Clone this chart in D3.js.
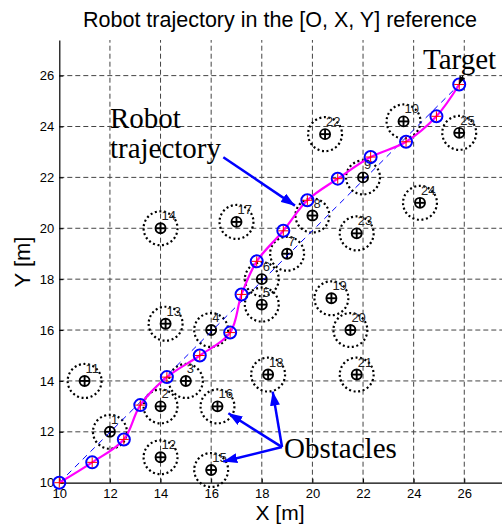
<!DOCTYPE html>
<html><head><meta charset="utf-8">
<script src="https://cdn.jsdelivr.net/npm/d3@7"></script>
<style>body{margin:0;background:#fff}svg{display:block}</style>
</head><body>
<script>
// ---- data ----
const obsLabel = [1,2,3,4,5,6,7,8,9,10,11,12,13,14,15,16,17,18,19,20,21,22,23,24,25];
const obsX = [12,14,15,16,18,18,19,20,22,23.6,11,14,14.2,14,16,16.25,17,18.25,20.75,21.5,21.75,20.5,21.75,24.25,25.8];
const obsY = [12,13,14,16,17,18,19,20.5,22,24.2,14,11,16.25,20,10.5,13,20.25,14.25,17.25,16,14.25,23.7,19.8,21,23.75];
const obsRadius = 0.67;
const wpX = [10,11.3,12.55,13.2,14.25,15.55,16.75,17.2,17.8,18.85,19.8,21,22.3,23.7,24.9,25.8];
const wpY = [10,10.8,11.7,13.05,14.15,15,15.9,17.4,18.7,19.9,21.1,21.95,22.8,23.4,24.4,25.65];
const xTicks = [10,12,14,16,18,20,22,24,26];
const yTicks = [10,12,14,16,18,20,22,24,26];

const W = 502, H = 529;
const svg = d3.select("body").append("svg").attr("width", W).attr("height", H);
const x = d3.scaleLinear().domain([10, 28]).range([59.3, 514.9]);
const y = d3.scaleLinear().domain([10, 27.4]).range([482.7, 40]);

const defs = svg.append("defs");
defs.append("marker").attr("id","ah").attr("viewBox","0 0 14 10").attr("refX",14).attr("refY",5)
  .attr("markerWidth",14).attr("markerHeight",10).attr("markerUnits","userSpaceOnUse").attr("orient","auto")
  .append("path").attr("d","M0,0L14,5L0,10Z").attr("fill","#0000ff");
defs.append("marker").attr("id","ahk").attr("viewBox","0 0 8 6").attr("refX",8).attr("refY",3)
  .attr("markerWidth",8).attr("markerHeight",6).attr("markerUnits","userSpaceOnUse").attr("orient","auto")
  .append("path").attr("d","M0,0L8,3L0,6Z").attr("fill","#000");

// grid
const g = svg.append("g");
g.selectAll(".gv").data(xTicks.slice(1)).join("line")
  .attr("x1", d=>x(d)).attr("x2", d=>x(d)).attr("y1", y(10)).attr("y2", y(27.4))
  .attr("stroke","#444").attr("stroke-width",1).attr("stroke-dasharray","5,3");
g.selectAll(".gh").data(yTicks.slice(1)).join("line")
  .attr("y1", d=>y(d)).attr("y2", d=>y(d)).attr("x1", x(10)).attr("x2", W)
  .attr("stroke","#444").attr("stroke-width",1).attr("stroke-dasharray","5,3");

// axes
const ax = svg.append("g").attr("transform",`translate(0,${y(10)})`)
  .call(d3.axisBottom(x).tickValues(xTicks).tickSize(-4).tickSizeOuter(0).tickPadding(6));
const ay = svg.append("g").attr("transform",`translate(${x(10)},0)`)
  .call(d3.axisLeft(y).tickValues(yTicks).tickSize(-4).tickSizeOuter(0).tickPadding(5));
[ax, ay].forEach(a => {
  a.selectAll("text").attr("font-family","Arial, 'Liberation Sans', sans-serif").attr("font-size",13).attr("fill","#000");
  a.select(".domain").attr("stroke","#000").attr("stroke-width",1.2);
  a.selectAll(".tick line").attr("stroke","#000");
});

// obstacles
const obs = svg.append("g");
const rpx = x(10 + obsRadius) - x(10);
obs.selectAll(".oc").data(obsLabel).join("circle")
  .attr("cx",(d,i)=>x(obsX[i])).attr("cy",(d,i)=>y(obsY[i])).attr("r",rpx)
  .attr("fill","none").attr("stroke","#000").attr("stroke-width",2.2).attr("stroke-dasharray","2,2.6");
obs.selectAll(".om").data(obsLabel).join("circle")
  .attr("cx",(d,i)=>x(obsX[i])).attr("cy",(d,i)=>y(obsY[i])).attr("r",5)
  .attr("fill","none").attr("stroke","#000").attr("stroke-width",1.9);
obs.selectAll(".ph").data(obsLabel).join("line")
  .attr("x1",(d,i)=>x(obsX[i])-5).attr("x2",(d,i)=>x(obsX[i])+5)
  .attr("y1",(d,i)=>y(obsY[i])).attr("y2",(d,i)=>y(obsY[i])).attr("stroke","#000").attr("stroke-width",1.9);
obs.selectAll(".pv").data(obsLabel).join("line")
  .attr("x1",(d,i)=>x(obsX[i])).attr("x2",(d,i)=>x(obsX[i]))
  .attr("y1",(d,i)=>y(obsY[i])-5).attr("y2",(d,i)=>y(obsY[i])+5).attr("stroke","#000").attr("stroke-width",1.9);
obs.selectAll(".ol").data(obsLabel).join("text")
  .attr("x",(d,i)=>x(obsX[i])+1).attr("y",(d,i)=>y(obsY[i])-8)
  .attr("font-family","Arial, 'Liberation Sans', sans-serif").attr("font-size",13).attr("fill","#222")
  .text(d=>d);

// straight reference line
const n = wpX.length;
svg.append("line").attr("x1",x(wpX[0])).attr("y1",y(wpY[0])).attr("x2",x(wpX[n-1])).attr("y2",y(wpY[n-1]))
  .attr("stroke","#0000ff").attr("stroke-width",1).attr("stroke-dasharray","6,5");

// trajectory
const pts = wpX.map((v,i)=>[x(v), y(wpY[i])]);
svg.append("path").attr("d", d3.line().curve(d3.curveCatmullRom.alpha(0.5))(pts))
  .attr("fill","none").attr("stroke","#ff00ff").attr("stroke-width",2.2);
const wp = svg.append("g");
wp.selectAll("circle").data(pts).join("circle").attr("cx",d=>d[0]).attr("cy",d=>d[1]).attr("r",6)
  .attr("fill","none").attr("stroke","#0000ff").attr("stroke-width",2);
wp.selectAll(".rh").data(pts).join("line").attr("x1",d=>d[0]-5).attr("x2",d=>d[0]+5).attr("y1",d=>d[1]).attr("y2",d=>d[1])
  .attr("stroke","#ff0000").attr("stroke-width",1);
wp.selectAll(".rv").data(pts).join("line").attr("x1",d=>d[0]).attr("x2",d=>d[0]).attr("y1",d=>d[1]-5).attr("y2",d=>d[1]+5)
  .attr("stroke","#ff0000").attr("stroke-width",1);

// annotations
const serif = "'Liberation Serif', 'Times New Roman', serif";
const arrow = (x1,y1,x2,y2,col,m) => svg.append("line").attr("x1",x(x1)).attr("y1",y(y1)).attr("x2",x(x2)).attr("y2",y(y2))
  .attr("stroke",col).attr("stroke-width",m==="ah"?2.5:1.2).attr("marker-end",`url(#${m})`);
arrow(16.48,22.79,19.31,20.89,"#0000ff","ah");
arrow(18.8,11.4,18.43,13.58,"#0000ff","ah");
arrow(18.8,11.4,16.68,12.73,"#0000ff","ah");
arrow(18.8,11.4,16.48,10.83,"#0000ff","ah");
arrow(25.95,26.02,25.8,25.66,"#000","ahk");
const ann = (tx,ty,t) => svg.append("text").attr("x",x(tx)).attr("y",y(ty)).attr("font-family",serif).attr("font-size",29).attr("fill","#000").text(t);
ann(12.0,23.94,"Robot");
ann(12.0,22.76,"trajectory");
ann(24.37,26.26,"Target");
ann(18.88,10.97,"Obstacles");

// titles
const sans = "Arial, 'Liberation Sans', sans-serif";
svg.append("text").attr("x",280).attr("y",27).attr("text-anchor","middle").attr("font-family",sans).attr("font-size",21.5).text("Robot trajectory in the [O, X, Y] reference");
svg.append("text").attr("x",280).attr("y",520).attr("text-anchor","middle").attr("font-family",sans).attr("font-size",21).text("X [m]");
svg.append("text").attr("transform","translate(30,262) rotate(-90)").attr("text-anchor","middle").attr("font-family",sans).attr("font-size",22).text("Y [m]");
</script>
</body></html>
